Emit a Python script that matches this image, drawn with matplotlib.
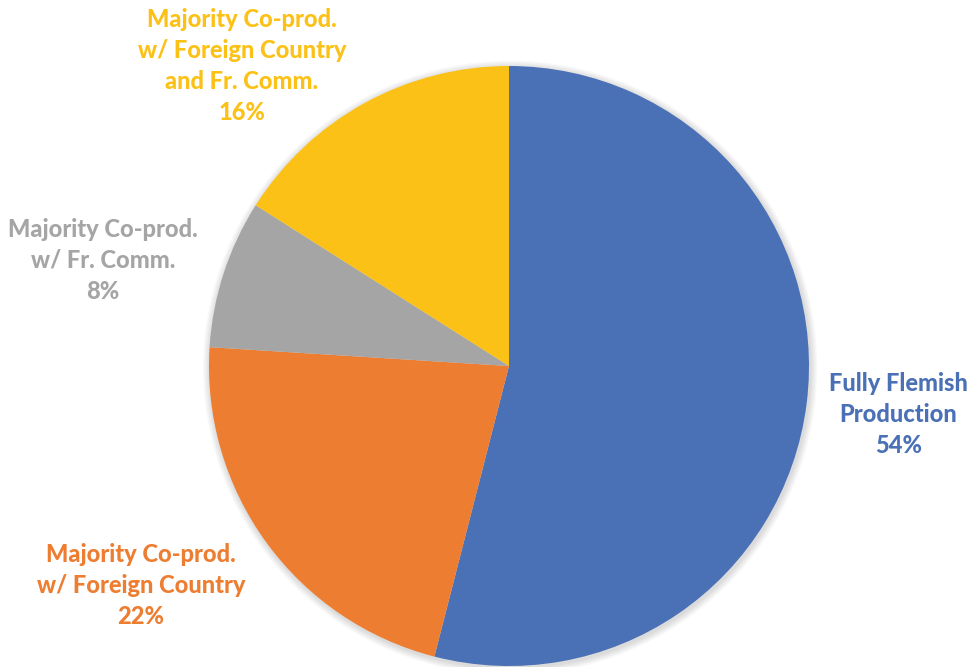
import matplotlib.pyplot as plt
from matplotlib.patches import Circle

labels = ["Fully Flemish\nProduction",
          "Majority Co-prod.\nw/ Foreign Country",
          "Majority Co-prod.\nw/ Fr. Comm.",
          "Majority Co-prod.\nw/ Foreign Country\nand Fr. Comm."]
shares = [54, 22, 8, 16]
colors = ["#4A71B6", "#ED7D31", "#A5A5A5", "#FCC116"]

# where each label block sits, in pie-radius units
label_pos = [(1.297, -0.163), (-1.227, -0.733), (-1.353, 0.353), (-0.89, 1.0)]

fig = plt.figure(figsize=(9.74, 6.67), dpi=100)
ax = fig.add_axes([0, 0, 1, 1])

# faint soft shadow under the pie
for k in range(6):
    ax.add_patch(Circle((0.004, -0.006), 1.0 + 0.004 * (k + 1), color="black",
                        alpha=0.025, lw=0, zorder=0))

ax.pie(shares, colors=colors, startangle=90, counterclock=False,
       radius=1.0, center=(0, 0), frame=True,
       wedgeprops=dict(linewidth=0, zorder=1))
ax.set_xlim(-509 / 300, 465 / 300)
ax.set_ylim(-301 / 300, 366 / 300)
ax.set_aspect("auto")
ax.axis("off")

for lab, val, col, (x, y) in zip(labels, shares, colors, label_pos):
    ax.text(x, y, f"{lab}\n{val}%", color=col, ha="center", va="center",
            fontsize=17, fontweight=900, family="Lato", linespacing=1.42)

fig.savefig("out.png", dpi=100)
